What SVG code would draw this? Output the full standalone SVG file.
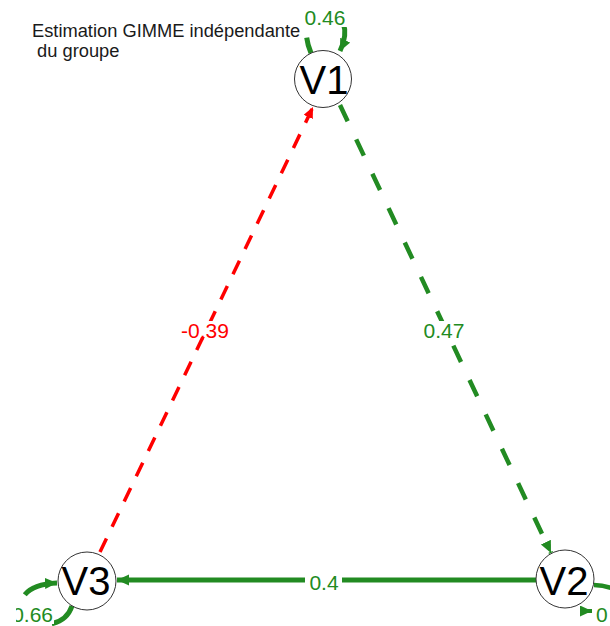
<svg xmlns="http://www.w3.org/2000/svg" width="610" height="626" viewBox="0 0 610 626">
<style>
.node{fill:#fff;stroke:#333;stroke-width:1}
.nlab{font-family:"Liberation Sans",Arial,sans-serif;font-size:40px;fill:#000;text-anchor:middle}
.elab{font-family:"Liberation Sans",Arial,sans-serif;font-size:21px;text-anchor:middle}
.pos{fill:#228B22}
.neg{fill:#FF0000}
.bg{fill:#fff}
.title{font-family:"Liberation Sans",Arial,sans-serif;font-size:18.3px;fill:#1a1a1a}
.eg{fill:none;stroke:#228B22}
.er{fill:none;stroke:#FF0000}
</style>
<defs>
<marker id="ag" markerUnits="userSpaceOnUse" markerWidth="14" markerHeight="12" refX="12" refY="5.5" orient="auto"><path d="M0,0 L12,5.5 L0,11 z" fill="#228B22"/></marker>
<marker id="ar" markerUnits="userSpaceOnUse" markerWidth="12" markerHeight="11" refX="11" refY="5" orient="auto"><path d="M0,0 L11,5 L0,10 z" fill="#FF0000"/></marker>
<clipPath id="cl"><rect x="16" y="590" width="60" height="40"/></clipPath>
</defs>
<text class="title" x="32" y="37">Estimation GIMME indépendante</text>
<text class="title" x="32" y="57" xml:space="preserve"> du groupe</text>
<g id="edges">
<path id="e-v1-v2" class="eg" d="M340,105 L551,553" stroke-width="4.5" stroke-dasharray="18 20" marker-end="url(#ag)"/>
<path id="e-v3-v1" class="er" d="M100,552 L313,107" stroke-width="3.5" stroke-dasharray="15 13" marker-end="url(#ar)"/>
<path id="e-v2-v3" class="eg" d="M536,580 L117,580" stroke-width="5" marker-end="url(#ag)"/>
<path id="loop-v1" class="eg" d="M311,53 C302,32 306,12 325,12 C344,12 350,30 340,51" stroke-width="5" stroke-dasharray="16 20 200" marker-end="url(#ag)"/>
<path id="loop-v3" class="eg" d="M72,606 C64,630 28,630 22,610 C18,596 30,584 57,583" stroke-width="5" stroke-dasharray="28 52 200" marker-end="url(#ag)"/>
<path id="loop-v2" class="eg" d="M594,585 C615,585 640,600 640,630" stroke-width="4.5"/>
<path id="loop-v2-end" class="eg" d="M585,611 L592,611" stroke-width="4" marker-end="url(#ag)"/>
<g id="labels">
<rect class="bg" x="180" y="321" width="51" height="16"/>
<text class="elab neg" x="205" y="338">-0,39</text>
<rect class="bg" x="423" y="321" width="43" height="16"/>
<text class="elab pos" x="444" y="338">0.47</text>
<rect class="bg" x="305" y="570" width="37" height="20"/>
<text class="elab pos" x="324" y="590">0.4</text>
<rect class="bg" x="302" y="8" width="46" height="19"/>
<text class="elab pos" x="325" y="25">0.46</text>
<rect class="bg" x="16" y="605" width="38" height="19"/>
<text class="elab pos" x="53" y="622" style="text-anchor:end" clip-path="url(#cl)">0.66</text>
<text class="elab pos" x="596" y="622" style="text-anchor:start">0</text>
</g>
</g>
<g id="V1"><circle class="node" cx="323" cy="79" r="28.5"/><text class="nlab" x="324" y="94">V1</text></g>
<g id="V2"><circle class="node" cx="565" cy="579" r="29"/><text class="nlab" x="564" y="595">V2</text></g>
<g id="V3"><circle class="node" cx="87" cy="581" r="29"/><text class="nlab" x="86" y="595">V3</text></g>
</svg>
